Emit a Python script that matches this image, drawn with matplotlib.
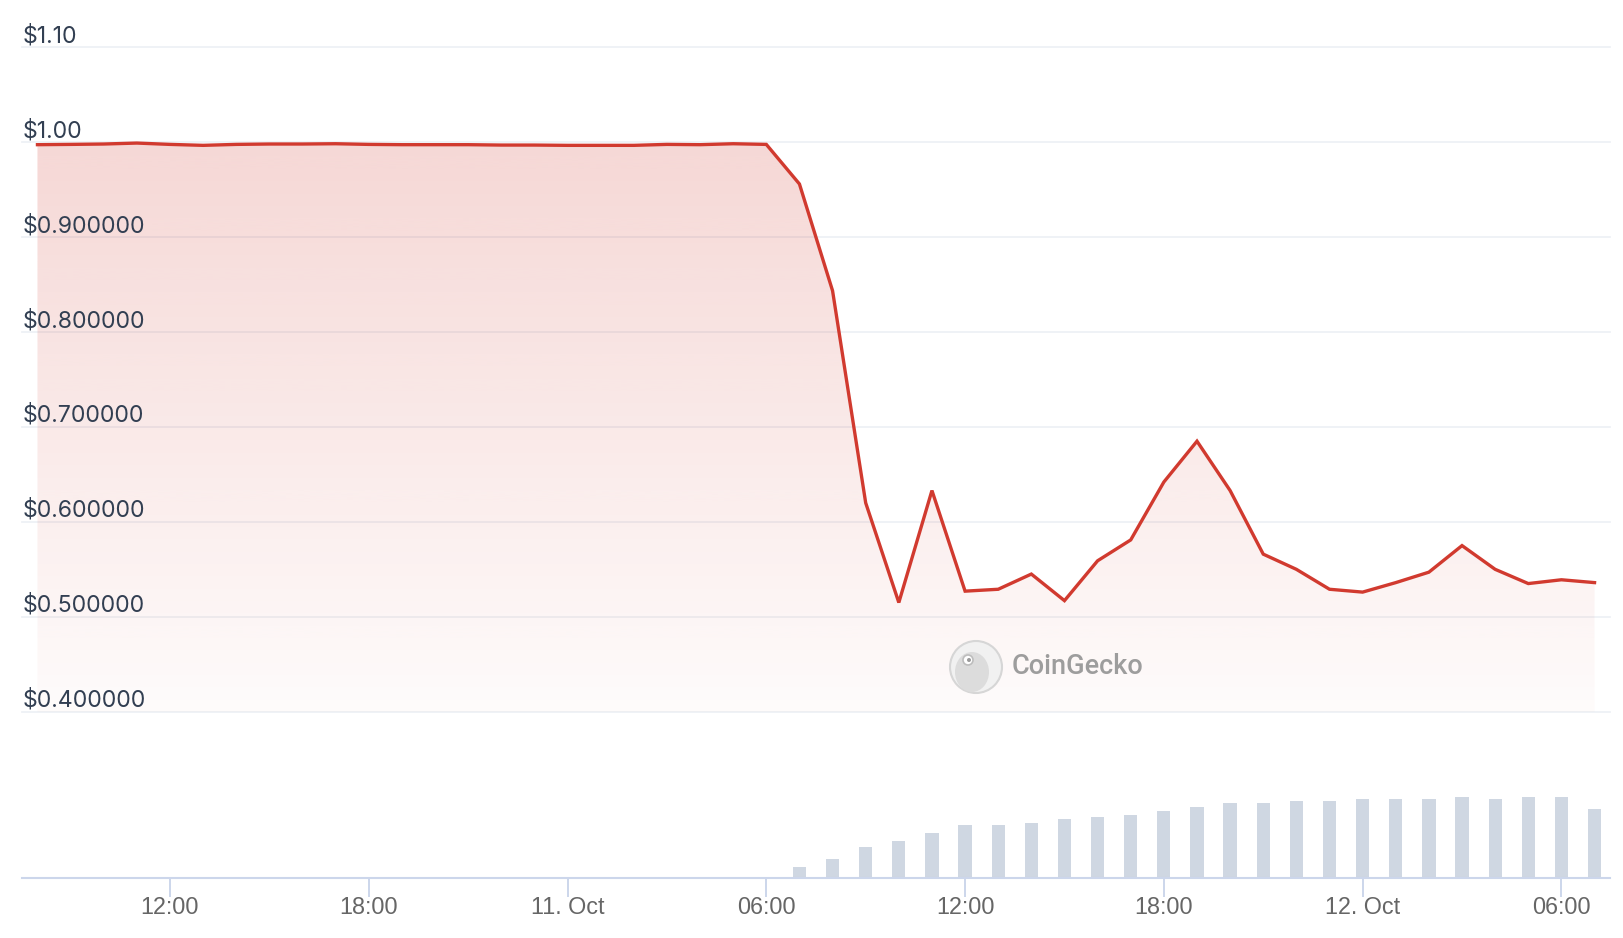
import matplotlib
matplotlib.use('Agg')
import matplotlib.pyplot as plt
import matplotlib.dates as mdates
from matplotlib.patches import Circle, Ellipse
import numpy as np
import pandas as pd

# hourly data, 10 Oct 08:00 -> 12 Oct 07:00
times = pd.date_range('2025-10-10 08:00', periods=48, freq='h')

price = [0.9974, 0.9977, 0.9981, 0.9991, 0.9977, 0.9967, 0.9977, 0.9981,
         0.9981, 0.9984, 0.9977, 0.9974, 0.9974, 0.9974, 0.9970, 0.9970,
         0.9967, 0.9967, 0.9967, 0.9977, 0.9974, 0.9984, 0.9977,
         0.956, 0.8435, 0.620, 0.515, 0.633, 0.527, 0.529, 0.545,
         0.517, 0.559, 0.581, 0.642, 0.685, 0.633, 0.566, 0.550,
         0.529, 0.526, 0.536, 0.547, 0.575, 0.550, 0.535, 0.539, 0.536]

volume = [0, 0, 0, 0, 0, 0, 0, 0, 0, 0, 0, 0, 0, 0, 0, 0, 0, 0, 0, 0, 0, 0, 0,
          11, 19, 31, 37, 45, 53, 53, 55, 59, 61, 63, 67, 71, 75, 75,
          77, 77, 79, 79, 79, 81, 79, 81, 81, 69]

y_ticks = [0.4, 0.5, 0.6, 0.7, 0.8, 0.9, 1.0, 1.1]
y_labels = ['$0.400000', '$0.500000', '$0.600000', '$0.700000',
            '$0.800000', '$0.900000', '$1.00', '$1.10']

line_col = '#d13a2f'
grid_col = '#eef1f6'
axis_col = '#ccd6eb'

W, H = 1624, 938
fig = plt.figure(figsize=(W / 100, H / 100), dpi=100)

def fbox(x0, y0, x1, y1):
    # pixel box (top-left origin) -> figure fraction
    return [x0 / W, 1 - y1 / H, (x1 - x0) / W, (y1 - y0) / H]

ax = fig.add_axes(fbox(22, 47.3, 1610, 711.7))
axv = fig.add_axes(fbox(22, 760, 1610, 877.5), sharex=ax)

pad = pd.Timedelta(minutes=28)
x0, x1 = times[0] - pad, times[-1] + pad

# price panel
ax.set_ylim(0.4, 1.1)
for v, lab in zip(y_ticks, y_labels):
    ax.axhline(v, color=grid_col, lw=1.3, zorder=0, clip_on=False)
    ax.annotate(lab, xy=(0, v), xycoords=('axes fraction', 'data'),
                xytext=(1, 5), textcoords='offset pixels',
                ha='left', va='baseline', fontsize=16.6, color='#323f52',
                family='Inter')

xs = mdates.date2num(times)
poly = ax.fill_between(xs, price, 0.4, color='none', lw=0, zorder=1)
grad = np.zeros((256, 1, 4))
rgb = matplotlib.colors.to_rgb(line_col)
grad[..., :3] = rgb
grad[:, 0, 3] = np.linspace(0.02, 0.2, 256)
img = ax.imshow(grad, extent=[xs[0], xs[-1], 0.4, max(price)], origin='lower',
                aspect='auto', zorder=1, interpolation='bicubic')
img.set_clip_path(poly.get_paths()[0], transform=ax.transData)
ax.plot(xs, price, color=line_col, lw=2.4, zorder=3, solid_joinstyle='miter')

for s in ax.spines.values():
    s.set_visible(False)
ax.tick_params(left=False, labelleft=False, bottom=False, labelbottom=False)
ax.set_xlim(mdates.date2num(x0), mdates.date2num(x1))

# watermark
fig.patches.append(Circle((976, H - 667), 26, transform=None, facecolor='#f1f1f1',
                          edgecolor='#d6d6d6', lw=1.5, zorder=2))
fig.patches.append(Ellipse((972, H - 672), 34, 40, transform=None,
                           facecolor='#dcdcdc', edgecolor='none', zorder=3))
fig.patches.append(Circle((968, H - 660), 5, transform=None, facecolor='white',
                          edgecolor='#bdbdbd', lw=1.2, zorder=4))
fig.patches.append(Circle((969, H - 660), 2, transform=None, facecolor='#9a9a9a',
                          edgecolor='none', zorder=5))
fig.text(1012 / W, 1 - 667 / H, 'CoinGecko', ha='left', va='center',
         fontsize=19.5, color='#9d9d9d', family='Roboto', fontweight='medium')

# volume panel
axv.bar(xs, volume, width=0.4 / 24, color='#cfd7e2', zorder=2)
axv.set_ylim(0, 117.5)
for k in ['top', 'left', 'right']:
    axv.spines[k].set_visible(False)
axv.spines['bottom'].set_color(axis_col)
axv.spines['bottom'].set_linewidth(1.5)
axv.tick_params(left=False, labelleft=False)

tick_times = pd.date_range('2025-10-10 12:00', '2025-10-12 06:00', freq='6h')
tick_labels = [f'{t.day}. Oct' if t.hour == 0 else t.strftime('%H:%M') for t in tick_times]
axv.set_xticks(mdates.date2num(tick_times))
axv.set_xticklabels(tick_labels)
axv.tick_params(axis='x', length=14, width=1.4, color=axis_col, pad=-0.5,
                labelsize=16.8, labelcolor='#666666')
for t in axv.get_xticklabels():
    t.set_family('Liberation Sans')
axv.set_xlim(mdates.date2num(x0), mdates.date2num(x1))
axv.patch.set_alpha(0)

fig.savefig('out.png', dpi=100, facecolor='white')
